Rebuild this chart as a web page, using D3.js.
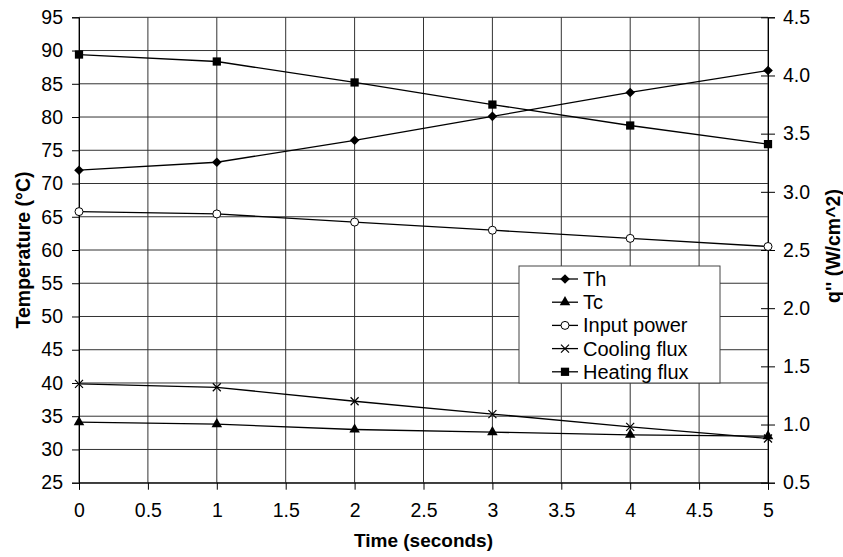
<!DOCTYPE html>
<html>
<head>
<meta charset="utf-8">
<script src="https://cdn.jsdelivr.net/npm/d3@7"></script>
<style>
  body { margin: 0; background: #fff; }
  text { font-family: "Liberation Sans", Arial, sans-serif; }
</style>
</head>
<body>
<div id="chart"></div>
<script>
// Data
const times = [0, 1, 2, 3, 4, 5];
const th = [72.0, 73.2, 76.5, 80.1, 83.7, 87.0];          // left axis, °C
const tc = [34.1, 33.8, 33.0, 32.6, 32.2, 32.0];          // left axis, °C
const inputPower = [2.83, 2.81, 2.74, 2.67, 2.60, 2.53];  // right axis, W/cm^2
const coolingFlux = [1.35, 1.32, 1.20, 1.09, 0.98, 0.88];
const heatingFlux = [4.18, 4.12, 3.94, 3.75, 3.57, 3.41];

const xTicks = [0, 0.5, 1, 1.5, 2, 2.5, 3, 3.5, 4, 4.5, 5];
const leftTicks = [25, 30, 35, 40, 45, 50, 55, 60, 65, 70, 75, 80, 85, 90, 95];
const rightTicks = [0.5, 1.0, 1.5, 2.0, 2.5, 3.0, 3.5, 4.0, 4.5];

const series = [
  {name: "Th", values: th, axis: "left", marker: "diamond"},
  {name: "Tc", values: tc, axis: "left", marker: "triangle"},
  {name: "Input power", values: inputPower, axis: "right", marker: "circle"},
  {name: "Cooling flux", values: coolingFlux, axis: "right", marker: "cross"},
  {name: "Heating flux", values: heatingFlux, axis: "right", marker: "square"}
];

const W = 843, H = 557;
const margin = {top: 17.3, right: 75, bottom: 74.3, left: 79};
const width = W - margin.left - margin.right,
      height = H - margin.top - margin.bottom;

const svg = d3.select("#chart").append("svg")
  .attr("width", W)
  .attr("height", H);

const g = svg.append("g")
  .attr("transform", "translate(" + margin.left + "," + margin.top + ")");

const x = d3.scaleLinear().domain([0, 5]).range([0, width]);
const yL = d3.scaleLinear().domain([25, 95]).range([height, 0]);
const yR = d3.scaleLinear().domain([0.5, 4.5]).range([height, 0]);

const gridColor = "#333";

// grid
g.append("g").selectAll("line")
  .data(leftTicks)
  .enter().append("line")
  .attr("x1", 0).attr("x2", width)
  .attr("y1", d => yL(d)).attr("y2", d => yL(d))
  .attr("stroke", gridColor).attr("stroke-width", 1);

g.append("g").selectAll("line")
  .data(xTicks)
  .enter().append("line")
  .attr("x1", d => x(d)).attr("x2", d => x(d))
  .attr("y1", 0).attr("y2", height)
  .attr("stroke", gridColor).attr("stroke-width", 1);

// axes
const fontSize = 19.5;

const xAxis = g.append("g")
  .attr("transform", "translate(0," + height + ")")
  .call(d3.axisBottom(x).tickValues(xTicks).tickSize(7).tickPadding(13).tickFormat(d3.format("")));

const leftAxis = g.append("g")
  .call(d3.axisLeft(yL).tickValues(leftTicks).tickSize(7).tickPadding(9));

const rightAxis = g.append("g")
  .attr("transform", "translate(" + width + ",0)")
  .call(d3.axisRight(yR).tickValues(rightTicks).tickSize(7).tickPadding(8).tickFormat(d3.format(".1f")));
rightAxis.selectAll(".tick line").attr("x1", -7);

[xAxis, leftAxis, rightAxis].forEach(a => {
  a.selectAll(".domain").attr("stroke", "#000");
  a.selectAll(".tick line").attr("stroke", "#000");
  a.selectAll("text")
    .attr("font-size", fontSize)
    .attr("fill", "#000")
    .style("font-family", "'Liberation Sans', Arial, sans-serif");
});

// axis titles
svg.append("text")
  .attr("x", margin.left + width / 2)
  .attr("y", 547)
  .attr("text-anchor", "middle")
  .attr("font-size", 19)
  .attr("font-weight", "bold")
  .text("Time (seconds)");

svg.append("text")
  .attr("transform", "translate(30," + (margin.top + height / 2) + ") rotate(-90)")
  .attr("text-anchor", "middle")
  .attr("font-size", 19.5)
  .attr("font-weight", "bold")
  .text("Temperature (°C)");

svg.append("text")
  .attr("transform", "translate(840," + (margin.top + height / 2 - 4) + ") rotate(-90)")
  .attr("text-anchor", "middle")
  .attr("font-size", 19.5)
  .attr("font-weight", "bold")
  .text("q'' (W/cm^2)");

// markers
const drawMarker = (sel, type) => {
  if (type === "circle") {
    sel.append("circle").attr("r", 4)
      .attr("fill", "#fff").attr("stroke", "#000").attr("stroke-width", 1);
  } else if (type === "cross") {
    sel.append("path").attr("d", "M-4,-4L4,4M-4,4L4,-4")
      .attr("stroke", "#000").attr("stroke-width", 1.2).attr("fill", "none");
  } else if (type === "diamond") {
    sel.append("path").attr("d", "M0,-4.8L4.8,0L0,4.8L-4.8,0Z").attr("fill", "#000");
  } else {
    const sym = {triangle: d3.symbolTriangle, square: d3.symbolSquare}[type];
    const size = {triangle: 48, square: 68}[type];
    sel.append("path").attr("d", d3.symbol().type(sym).size(size)()).attr("fill", "#000");
  }
};

// lines
series.forEach(s => {
  const yS = s.axis === "left" ? yL : yR;
  const line = d3.line()
    .x((d, i) => x(times[i]))
    .y(d => yS(d));

  g.append("path")
    .datum(s.values)
    .attr("fill", "none")
    .attr("stroke", "#000")
    .attr("stroke-width", 1.3)
    .attr("d", line);

  g.append("g").selectAll("g")
    .data(s.values)
    .enter().append("g")
    .attr("transform", (d, i) => "translate(" + x(times[i]) + "," + yS(d) + ")")
    .each(function () { drawMarker(d3.select(this), s.marker); });
});

// legend
const legend = svg.append("g").attr("transform", "translate(519,266)");
legend.append("rect")
  .attr("width", 201).attr("height", 117)
  .attr("fill", "#fff").attr("stroke", "#444").attr("stroke-width", 1);

const item = legend.selectAll(".legend")
  .data(series)
  .enter().append("g")
  .attr("class", "legend")
  .attr("transform", (d, i) => "translate(0," + (13 + i * 23.2) + ")");

item.append("line")
  .attr("x1", 33).attr("x2", 59)
  .attr("stroke", "#000").attr("stroke-width", 1.3);

item.append("g")
  .attr("transform", "translate(46,0)")
  .each(function (d) { drawMarker(d3.select(this), d.marker); });

item.append("text")
  .attr("x", 64)
  .attr("dy", "0.35em")
  .attr("font-size", 20)
  .text(d => d.name);
</script>
</body>
</html>
